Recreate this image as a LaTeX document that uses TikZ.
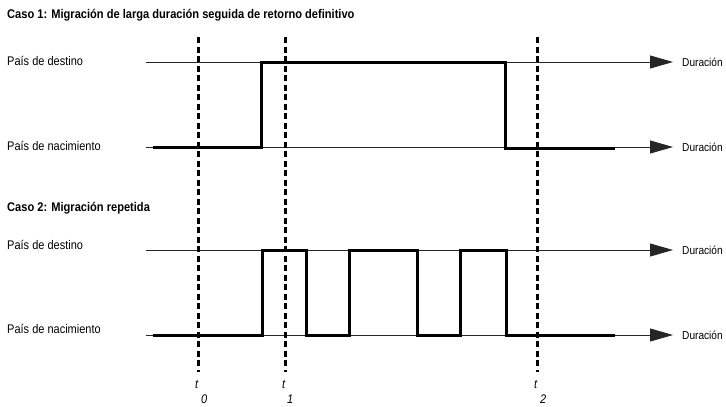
\documentclass[tikz,border=0pt]{standalone}
\usepackage{fontspec}
\setmainfont{Liberation Sans}[FakeStretch=0.88]
\usetikzlibrary{arrows.meta}
\tikzset{
  lbl/.style={anchor=base west, inner sep=0pt, font=\fontsize{12.5}{14}\selectfont},
  ttl/.style={anchor=base west, inner sep=0pt, font=\fontsize{12.6}{14}\selectfont\bfseries},
  dur/.style={anchor=base west, inner sep=0pt, font=\fontsize{11.5}{14}\selectfont},
  tl/.style={anchor=base west, inner sep=0pt, font=\fontsize{12.5}{14}\selectfont\itshape},
  axis/.style={line width=0.9pt, black!85, -{Triangle[length=23pt,width=13pt]}},
  state/.style={line width=3pt, black, line join=miter},
  timeline/.style={line width=3pt, black, dash pattern=on 6pt off 3.5pt},
}
\begin{document}
\begin{tikzpicture}[x=1pt,y=-1pt]
\useasboundingbox (0,0) rectangle (726,407);
% titles
\node[ttl] (title1) at (7,18) {Caso 1: Migración de larga duración seguida de retorno definitivo};
\node[ttl] (title2) at (7,211) {Caso 2: Migración repetida};
% row labels
\node[lbl] (d1) at (7,65) {País de destino};
\node[lbl] (n1) at (7,150) {País de nacimiento};
\node[lbl] (d2) at (7,249) {País de destino};
\node[lbl] (n2) at (7,333) {País de nacimiento};
% axis coordinates
\coordinate (a1s) at (146,62);  \coordinate (a1e) at (673,62);
\coordinate (b1s) at (146,147); \coordinate (b1e) at (673,147);
\coordinate (a2s) at (146,250); \coordinate (a2e) at (673,250);
\coordinate (b2s) at (146,335); \coordinate (b2e) at (673,335);
% Duración labels
\node[dur] (da1) at (682,66) {Duración};
\node[dur] (db1) at (682,151) {Duración};
\node[dur] (da2) at (682,254) {Duración};
\node[dur] (db2) at (682,339) {Duración};
% axes
\draw[axis] (a1s) -- (a1e);
\draw[axis] (b1s) -- (b1e);
\draw[axis] (a2s) -- (a2e);
\draw[axis] (b2s) -- (b2e);
% case 1 state
\coordinate (c1a) at (153,147);
\coordinate (c1b) at (261,147);
\coordinate (c1c) at (261,62);
\coordinate (c1d) at (505,62);
\coordinate (c1e) at (505,148);
\coordinate (c1f) at (615,148);
\draw[state] (c1a) -- (c1b) -- (c1c) -- (c1d) -- (c1e) -- (c1f);
% case 2 state
\coordinate (c2a) at (153,335);
\coordinate (c2b) at (262,335);
\coordinate (c2c) at (262,250);
\coordinate (c2d) at (306,250);
\coordinate (c2e) at (306,335);
\coordinate (c2f) at (349,335);
\coordinate (c2g) at (349,250);
\coordinate (c2h) at (417,250);
\coordinate (c2i) at (417,335);
\coordinate (c2j) at (460,335);
\coordinate (c2k) at (460,250);
\coordinate (c2l) at (506,250);
\coordinate (c2m) at (506,335);
\coordinate (c2n) at (615,335);
\draw[state] (c2a) -- (c2b) -- (c2c) -- (c2d) -- (c2e) -- (c2f) -- (c2g) -- (c2h) -- (c2i) -- (c2j) -- (c2k) -- (c2l) -- (c2m) -- (c2n);
% time markers
\coordinate (t0top) at (198,37); \coordinate (t0bot) at (198,372);
\coordinate (t1top) at (285,37); \coordinate (t1bot) at (285,372);
\coordinate (t2top) at (537,37); \coordinate (t2bot) at (537,372);
\draw[timeline] (t0top) -- (t0bot);
\draw[timeline] (t1top) -- (t1bot);
\draw[timeline] (t2top) -- (t2bot);
% time labels
\node[tl] (t0) at (195,388) {t};
\node[tl] (s0) at (201,403) {0};
\node[tl] (t1) at (282,388) {t};
\node[tl] (s1) at (287,403) {1};
\node[tl] (t2) at (534,388) {t};
\node[tl] (s2) at (540,403) {2};
\end{tikzpicture}
\end{document}
